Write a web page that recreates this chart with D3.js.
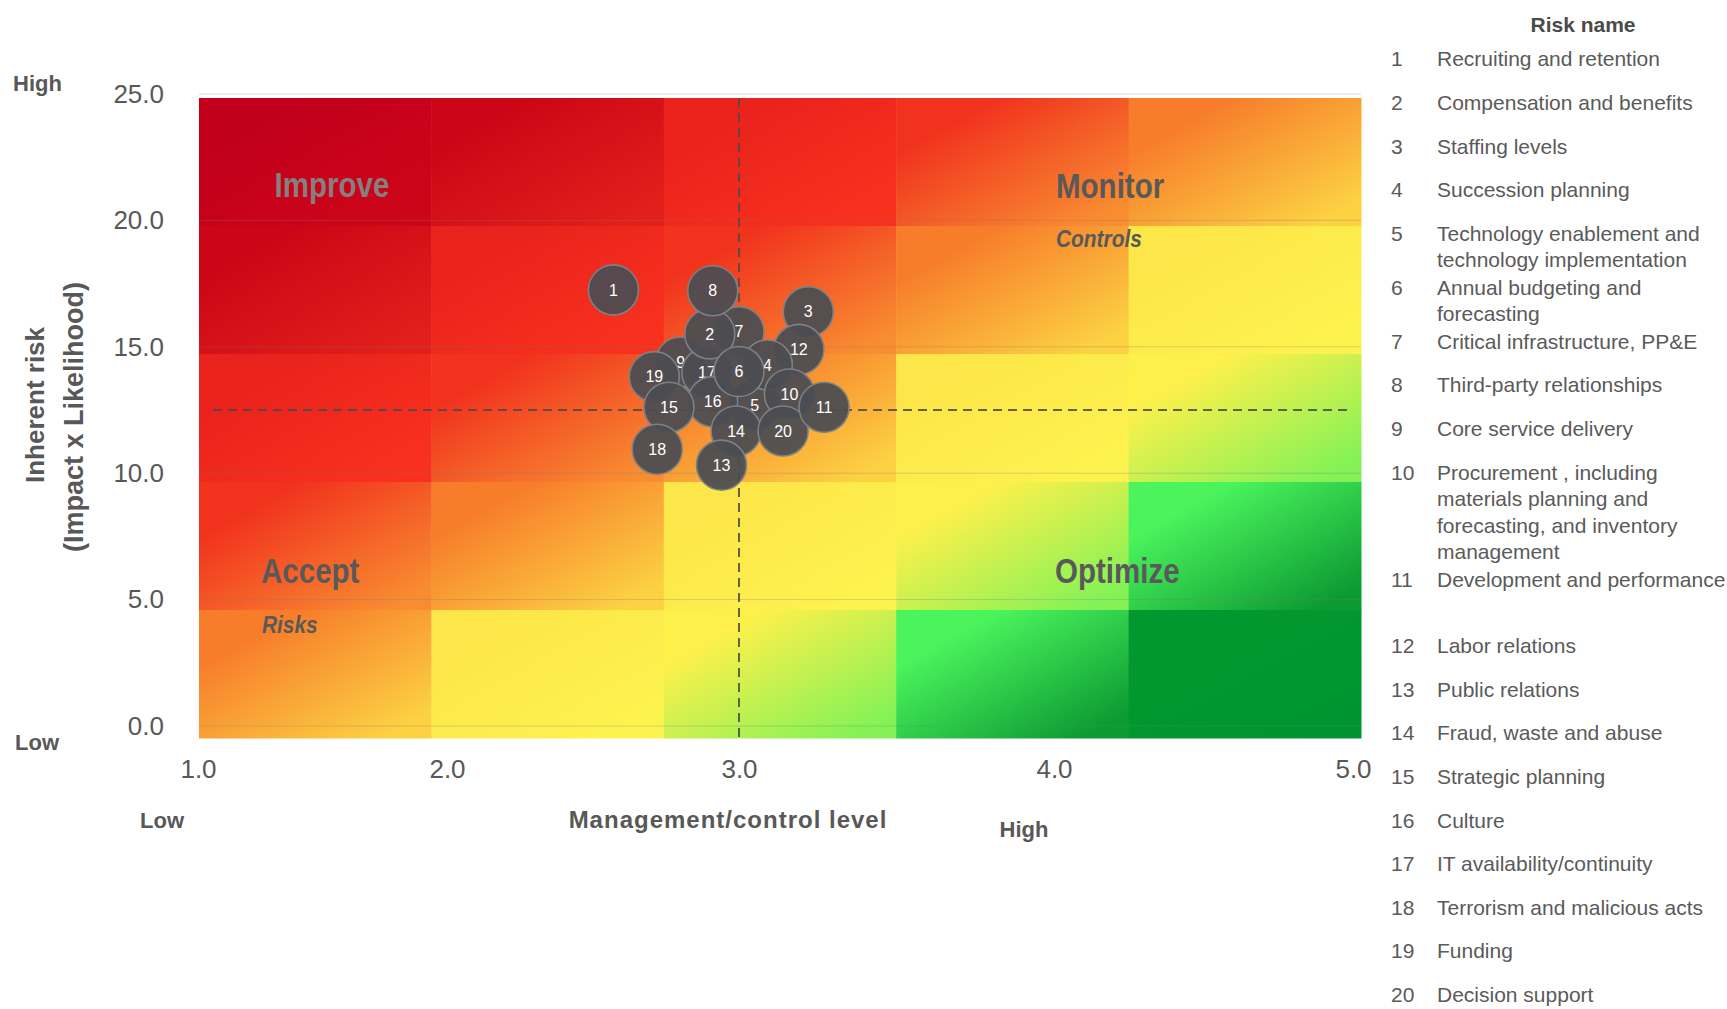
<!DOCTYPE html>
<html>
<head>
<meta charset="utf-8">
<script src="https://cdn.jsdelivr.net/npm/d3@7"></script>
<style>
  html, body { margin: 0; padding: 0; background: #ffffff; }
  svg { display: block; font-family: "Liberation Sans", Arial, Helvetica, sans-serif; }
</style>
</head>
<body>
<svg id="chart" width="1727" height="1009"></svg>
<script>
// ---- Risk register -------------------------------------------------------
const riskIds = [1, 2, 3, 4, 5, 6, 7, 8, 9, 10, 11, 12, 13, 14, 15, 16, 17, 18, 19, 20];
// Management/control level (1 = low, 5 = high)
const controlLevel = [2.57, 2.90, 3.22, 3.09, 3.05, 3.00, 3.00, 2.91, 2.80, 3.16,
                      3.27, 3.19, 2.94, 2.99, 2.76, 2.91, 2.89, 2.72, 2.71, 3.14];
// Inherent risk = impact x likelihood
const inherentRisk = [17.25, 15.51, 16.39, 14.28, 12.70, 14.02, 15.60, 17.22, 14.40, 13.13,
                      12.61, 14.90, 10.32, 11.67, 12.61, 12.83, 13.98, 10.95, 13.82, 11.67];
const riskNames = [
  ["Recruiting and retention"],
  ["Compensation and benefits"],
  ["Staffing levels"],
  ["Succession planning"],
  ["Technology enablement and", "technology implementation"],
  ["Annual budgeting and", "forecasting"],
  ["Critical infrastructure, PP&E"],
  ["Third-party relationships"],
  ["Core service delivery"],
  ["Procurement , including", "materials planning  and", "forecasting, and inventory", "management"],
  ["Development and performance", ""],
  ["Labor relations"],
  ["Public relations"],
  ["Fraud, waste and abuse"],
  ["Strategic planning"],
  ["Culture"],
  ["IT  availability/continuity"],
  ["Terrorism and malicious acts"],
  ["Funding"],
  ["Decision support"]
];
// Back-to-front stacking of the bubbles in the cluster
const drawOrder = [9, 19, 7, 5, 3, 12, 4, 10, 17, 2, 16, 6, 8, 15, 18, 14, 20, 11, 13, 1];

// Axis ticks and quadrant split
const xTicks = [1, 2, 3, 4, 5];
const yTicks = [0, 5, 10, 15, 20, 25];
const controlSplit = 3;
const riskSplit = 12.5;

// 5 x 5 background matrix; severity band = row + column (0 = top-left)
const matrixRows = [0, 1, 2, 3, 4];
const matrixCols = [0, 1, 2, 3, 4];

// ---- Styling ---------------------------------------------------------------
const bandColors = [
  ["#c2001b", "#cd0519"],
  ["#cb0717", "#e31f1b"],
  ["#e9231c", "#f8311f"],
  ["#f1331e", "#f88c31"],
  ["#f77d2b", "#fcd243"],
  ["#fde649", "#fdf34f"],
  ["#fdf04b", "#84f256"],
  ["#4bf45c", "#0c9b33"],
  ["#03982f", "#009430"]
];
const textGray = "#585858";

const svg = d3.select("#chart");
const W = 1727, H = 1009;
svg.append("rect").attr("width", W).attr("height", H).attr("fill", "#ffffff");

// Plot frame
const plot = { left: 199, right: 1361, top: 98, bottom: 738 };

const x = d3.scaleLinear().domain(xTicks).range([198, 447, 739, 1054, 1353]);
const y = d3.scaleLinear().domain([0, 25]).range([726, 94]);

const colBand = d3.scaleBand().domain(matrixCols).range([plot.left, plot.right]);
const rowBand = d3.scaleBand().domain(matrixRows).range([plot.top, plot.bottom]);

// Gradients for each severity band (top-left -> bottom-right)
const defs = svg.append("defs");
bandColors.forEach((c, i) => {
  const g = defs.append("linearGradient")
    .attr("id", "band" + i)
    .attr("x1", 0).attr("y1", 0).attr("x2", 1).attr("y2", 1);
  g.append("stop").attr("offset", 0.22).attr("stop-color", c[0]);
  g.append("stop").attr("offset", 0.9).attr("stop-color", c[1]);
});

const cells = [];
matrixRows.forEach(r => matrixCols.forEach(c => cells.push({ r, c })));

svg.append("g").selectAll("rect").data(cells).join("rect")
  .attr("x", d => colBand(d.c))
  .attr("y", d => rowBand(d.r))
  .attr("width", colBand.bandwidth() + 0.5)
  .attr("height", rowBand.bandwidth() + 0.5)
  .attr("fill", d => `url(#band${d.r + d.c})`);

// Horizontal gridlines at the y ticks
svg.append("g").selectAll("line").data(yTicks).join("line")
  .attr("x1", plot.left).attr("x2", plot.right)
  .attr("y1", d => y(d)).attr("y2", d => y(d))
  .attr("stroke", "#7a7a7a").attr("stroke-opacity", 0.28).attr("stroke-width", 1);

// Y axis tick labels
const yAxis = svg.append("g")
  .attr("transform", "translate(172,0)")
  .call(d3.axisLeft(y).tickValues(yTicks).tickFormat(d3.format(".1f")).tickSize(0).tickPadding(8));
yAxis.select(".domain").remove();
yAxis.selectAll("text").attr("font-size", 26).attr("fill", textGray)
  .attr("font-family", "'Liberation Sans', Arial, sans-serif");

// X axis tick labels
const xAxis = svg.append("g")
  .attr("transform", "translate(0,757)")
  .call(d3.axisBottom(x).tickValues(xTicks).tickFormat(d3.format(".1f")).tickSize(0).tickPadding(3));
xAxis.select(".domain").remove();
xAxis.selectAll("text").attr("font-size", 26).attr("fill", textGray)
  .attr("font-family", "'Liberation Sans', Arial, sans-serif");

// Quadrant dividers
const dash = svg.append("g")
  .attr("stroke", "#4a4a4a").attr("stroke-opacity", 0.85)
  .attr("stroke-width", 2).attr("stroke-dasharray", "9,6").attr("fill", "none");
dash.append("line")
  .attr("x1", plot.left + 14).attr("x2", plot.right - 12)
  .attr("y1", y(riskSplit)).attr("y2", y(riskSplit));
dash.append("line")
  .attr("x1", x(controlSplit)).attr("x2", x(controlSplit))
  .attr("y1", plot.top).attr("y2", plot.bottom);

// Quadrant labels (condensed bold)
function condensed(txt, px, py, opts) {
  const o = Object.assign({ size: 36, anchor: "start", squeeze: 0.82, italic: false, fill: "#595959" }, opts);
  svg.append("text")
    .attr("transform", `translate(${px},${py}) scale(${o.squeeze},1)`)
    .attr("text-anchor", o.anchor)
    .attr("font-size", o.size)
    .attr("font-weight", "bold")
    .attr("font-style", o.italic ? "italic" : "normal")
    .attr("fill", o.fill)
    .text(txt);
}
condensed("Improve", 332, 197, { anchor: "middle", fill: "#877f7f" });
condensed("Monitor", 1056, 198);
condensed("Controls", 1056, 247, { size: 24, italic: true, squeeze: 0.87 });
condensed("Accept", 261, 583);
condensed("Risks", 262, 633, { size: 24, italic: true, squeeze: 0.87 });
condensed("Optimize", 1055, 583);

// Bubbles
const risks = riskIds.map((id, i) => ({ id, cx: controlLevel[i], ry: inherentRisk[i] }));
const byId = new Map(risks.map(d => [d.id, d]));
const ordered = drawOrder.map(id => byId.get(id));

const bubbles = svg.append("g").selectAll("g").data(ordered).join("g")
  .attr("transform", d => `translate(${x(d.cx)},${y(d.ry)})`);
bubbles.append("circle")
  .attr("r", 25)
  .attr("fill", "#4b4d52").attr("fill-opacity", 0.94)
  .attr("stroke", "#7e8083").attr("stroke-width", 1.6);
bubbles.append("text")
  .attr("text-anchor", "middle").attr("dy", "0.36em")
  .attr("font-size", 16).attr("fill", "#ffffff")
  .text(d => d.id);

// Axis titles and low/high markers
function label(txt, px, py, opts) {
  const o = Object.assign({ size: 22, anchor: "start", weight: "bold", fill: textGray, rotate: 0, spacing: 0 }, opts);
  svg.append("text")
    .attr("transform", `translate(${px},${py}) rotate(${o.rotate})`)
    .attr("text-anchor", o.anchor)
    .attr("font-size", o.size)
    .attr("font-weight", o.weight)
    .attr("letter-spacing", o.spacing)
    .attr("fill", o.fill)
    .text(txt);
}
label("High", 13, 91);
label("Low", 15, 750);
label("Low", 162, 828, { anchor: "middle" });
label("High", 1024, 837, { anchor: "middle" });
label("Management/control level", 728, 828, { anchor: "middle", size: 24, spacing: 1 });
label("Inherent risk", 44, 405, { anchor: "middle", size: 26, rotate: -90 });
label("(Impact x Likelihood)", 83, 417, { anchor: "middle", size: 27, rotate: -90 });

// Legend: single-line rows use a fixed pitch, wrapped rows grow by line,
// and an empty line adds a short spacer.
label("Risk name", 1583, 32, { anchor: "middle", size: 21, fill: "#4a4a4a" });
const lineGap = 26.5, rowGap = 43.6, spacerGap = 23;
let rowY = 59;
const legendRows = riskIds.map((id, i) => {
  const row = { id, lines: riskNames[i], y: rowY };
  const blanks = riskNames[i].filter(s => s === "").length;
  const n = riskNames[i].length - blanks;
  rowY += (n === 1 ? rowGap : n * lineGap + 1) + blanks * spacerGap;
  return row;
});
const legend = svg.append("g").attr("font-size", 21).attr("fill", "#5a5a5a");
const lg = legend.selectAll("g").data(legendRows).join("g")
  .attr("transform", d => `translate(0,${d.y})`);
lg.append("text").attr("x", 1391).attr("dy", "0.35em").text(d => d.id);
lg.each(function (d) {
  const t = d3.select(this).append("text");
  d.lines.forEach((ln, k) => {
    t.append("tspan").attr("x", 1437).attr("y", k * lineGap).attr("dy", "0.35em").text(ln);
  });
});
</script>
</body>
</html>
